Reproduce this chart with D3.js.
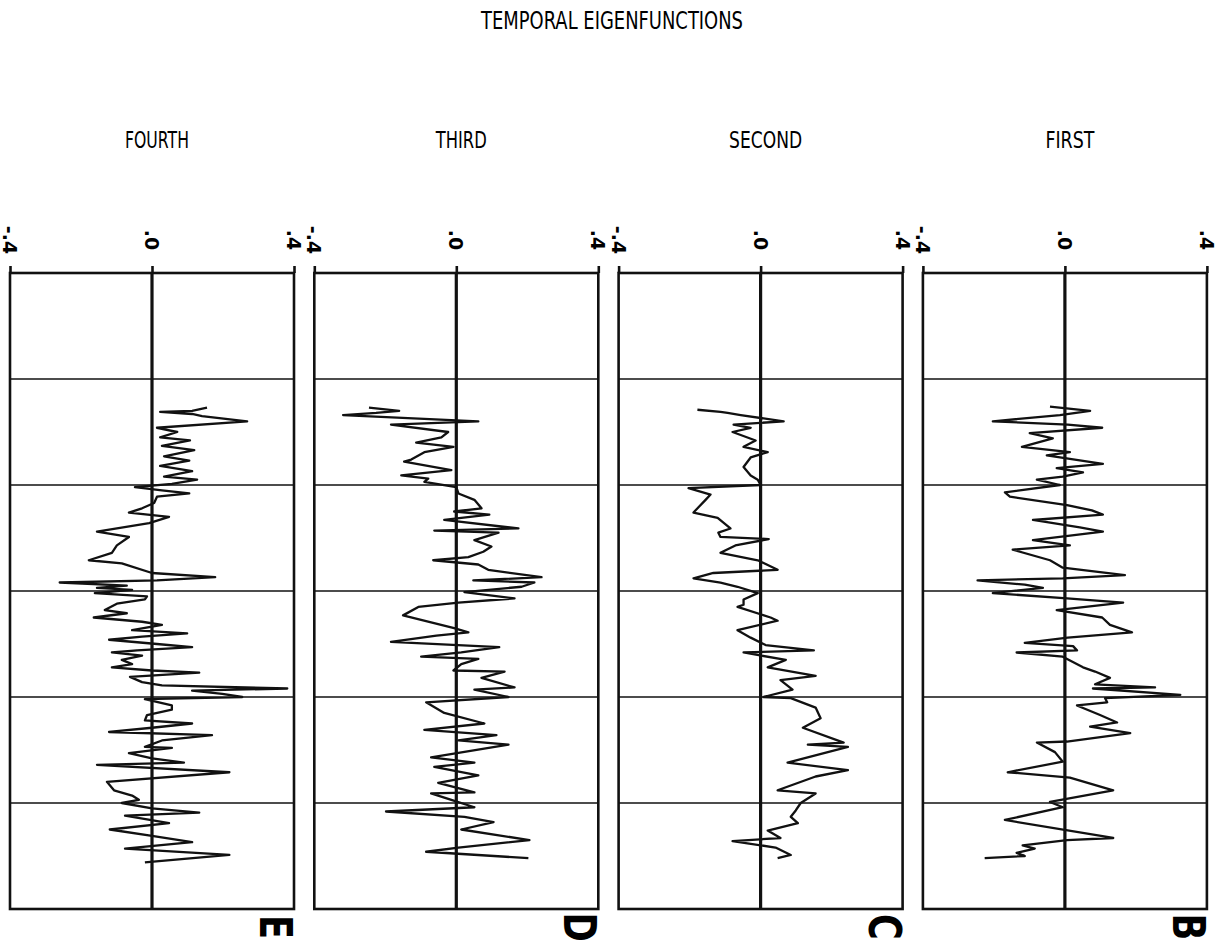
<!DOCTYPE html>
<html>
<head>
<meta charset="utf-8">
<script src="https://cdn.jsdelivr.net/npm/d3@7"></script>
<style>
body { margin: 0; background: #fff; }
</style>
</head>
<body>
<div id="chart"></div>
<script>
// panel order left to right, as in the figure
var panelNames = ["FOURTH", "THIRD", "SECOND", "FIRST"];
var panelLetters = ["E", "D", "C", "B"];
var valueTicks = [-0.4, 0, 0.4];
var tickLabels = ["-.4", ".0", ".4"];
var timeGrid = [10, 20, 30, 40, 50];

// [time, amplitude]
var fourth = [[12.7,.155],[13.0,.113],[13.1,.023],[13.3,.113],[13.5,.141],[14.0,.268],[14.6,.014],[15.0,.071],[15.5,.023],[15.8,.107],[16.3,.028],[16.7,.119],[17.3,.034],[17.7,.105],[18.2,.023],[18.7,.113],[19.2,.034],[19.5,.127],[19.9,.056],[20.2,-.048],[20.5,.028],[20.8,.105],[21.1,.014],[21.7,.006],[22.2,-.028],[22.6,-.065],[23.0,.048],[23.6,-.008],[24.4,-.155],[24.9,-.065],[25.7,-.099],[26.4,-.113],[27.1,-.178],[27.4,-.085],[28.3,0],[28.7,.178],[29.0,.014],[29.2,-.260],[29.5,-.071],[29.7,-.155],[29.9,-.056],[30.2,-.161],[30.5,-.014],[30.8,-.020],[31.2,-.099],[31.8,-.133],[32.1,-.071],[32.5,-.164],[32.9,-.028],[33.2,.028],[33.7,-.056],[34.0,.099],[34.3,-.028],[34.6,-.121],[35.0,.014],[35.3,.113],[35.6,-.042],[35.8,-.113],[36.1,-.028],[36.5,-.085],[36.9,-.056],[37.2,-.113],[37.5,0],[37.7,.133],[38.1,-.062],[38.6,-.028],[38.9,.028],[39.2,.381],[39.4,.113],[39.7,.198],[40.0,.254],[40.2,-.020],[40.8,.056],[41.2,.056],[41.7,-.014],[42.2,-.020],[42.5,.113],[42.9,0],[43.3,-.121],[43.6,.169],[44.1,.028],[44.7,-.020],[44.8,.056],[45.3,-.065],[45.8,0],[46.2,.090],[46.4,-.155],[47.1,.218],[48.0,-.127],[48.8,-.107],[49.3,-.056],[49.7,-.037],[50.0,-.085],[50.5,0],[50.9,.133],[51.2,-.076],[51.9,.048],[52.5,-.119],[53.1,0],[53.7,.113],[54.3,-.076],[54.9,.218],[55.6,-.020]];

var third = [[12.7,-.246],[13.0,-.161],[13.2,-.226],[13.4,-.319],[14.0,.062],[14.3,-.184],[15.0,-.023],[15.5,-.042],[16.0,-.113],[16.4,-.008],[16.9,-.090],[17.6,-.127],[17.8,-.147],[18.6,-.014],[19.1,-.155],[19.4,-.079],[19.7,-.090],[20.2,0],[20.8,.006],[21.4,.051],[22.2,.071],[22.5,-.006],[22.8,.093],[23.3,-.034],[24.1,.175],[24.3,-.062],[24.5,.119],[25.2,.051],[25.8,.099],[26.3,.076],[26.8,.034],[27.1,-.065],[27.5,.062],[28.0,.090],[28.7,.240],[29.0,.048],[29.2,.220],[29.6,.184],[30.1,.023],[30.7,.164],[31.1,.006],[31.5,-.107],[32.3,-.150],[33.5,-.006],[33.9,.034],[34.2,-.056],[34.8,-.184],[35.3,.121],[35.8,.014],[36.2,-.099],[36.4,.062],[36.9,.014],[37.5,-.008],[37.6,.136],[38.2,.071],[39.1,.164],[39.3,.051],[40.0,.147],[40.5,-.085],[41.5,-.034],[42.5,.079],[43.1,-.090],[43.6,.113],[44.1,.006],[44.5,.147],[45.7,-.071],[46.2,.051],[46.6,-.062],[47.4,.062],[48.1,-.051],[49.0,.051],[49.1,-.071],[49.7,-.014],[50.4,.051],[50.8,-.198],[51.3,.023],[51.8,.105],[52.5,.014],[53.5,.206],[54.2,.006],[54.6,-.085],[55.2,.203]];

var second = [[12.9,-.178],[13.1,-.113],[13.2,-.093],[13.4,-.056],[14.0,.065],[14.3,-.076],[14.6,-.028],[15.0,-.079],[15.8,-.014],[16.4,-.048],[16.9,.020],[17.4,-.028],[18.3,-.048],[19.1,-.028],[19.5,-.008],[20.0,0],[20.3,-.203],[20.9,-.141],[21.4,-.155],[22.1,-.175],[22.6,-.189],[23.1,-.121],[24.1,-.085],[24.5,-.119],[24.9,-.113],[25.1,.023],[25.7,-.071],[26.4,-.113],[27.1,-.008],[28.0,.048],[28.3,-.133],[28.8,-.189],[29.2,-.113],[29.6,-.065],[30.2,-.008],[30.8,-.048],[31.3,-.048],[31.5,-.065],[32.5,.028],[32.8,.048],[33.7,-.065],[34.4,-.028],[35.1,.014],[35.6,.150],[35.8,-.048],[36.5,.071],[37.2,.020],[38.0,.155],[38.4,.056],[39.3,.090],[40.0,.008],[40.1,.085],[41.0,.155],[42.0,.169],[42.9,.119],[44.3,.234],[44.5,.133],[44.7,.246],[46.2,.076],[46.9,.246],[47.5,.155],[48.8,.048],[49.1,.155],[50.0,.113],[50.7,.099],[51.3,.085],[51.9,.105],[52.6,.020],[53.3,.056],[53.6,-.079],[54.2,.042],[54.9,.085],[55.2,.048]];

var first = [[12.6,-.042],[13.0,.071],[13.4,-.014],[14.0,-.203],[14.3,.008],[14.6,.105],[15.1,-.099],[15.6,-.034],[16.4,-.121],[16.9,.014],[17.2,-.051],[18.0,.107],[18.4,-.023],[18.8,.051],[19.2,-.006],[19.5,-.079],[20.0,-.014],[20.7,-.169],[21.1,-.155],[21.9,.006],[22.4,.076],[22.8,.107],[23.3,-.090],[24.0,.042],[24.4,.107],[25.2,-.090],[25.7,.014],[26.1,-.147],[27.1,-.042],[27.8,-.006],[28.5,.169],[28.8,-.006],[29.0,-.246],[29.4,-.113],[29.7,-.062],[30.2,-.203],[30.7,.006],[31.1,.164],[31.8,-.023],[32.5,.105],[33.2,.127],[33.9,.189],[34.4,.008],[34.9,-.113],[35.2,.023],[35.6,.034],[35.8,-.136],[36.2,-.006],[37.2,.051],[37.6,.085],[38.2,.127],[38.8,.085],[39.1,.254],[39.2,.079],[39.8,.325],[40.1,.113],[40.5,.119],[40.8,.034],[41.7,.099],[42.4,.147],[42.8,.071],[43.4,.184],[44.2,.006],[44.3,-.079],[45.2,-.028],[46.1,-.006],[47.1,-.161],[47.6,.014],[48.8,.136],[49.9,-.042],[50.4,-.006],[51.6,-.169],[53.3,.136],[53.5,.006],[54.0,-.119],[54.3,-.085],[54.7,-.136],[55.0,-.113],[55.2,-.226]];

var series = [fourth, third, second, first];

var width = 1223, height = 947;
var panelLeft = 10, panelStep = 304.3, panelWidth = 284;
var plotTop = 273, plotBottom = 909;
var titleWidths = [64, 51, 73, 49];

var svg = d3.select("#chart").append("svg")
	.attr("width", width)
	.attr("height", height)
	.style("font-family", "'DejaVu Sans', sans-serif");

svg.append("text")
	.attr("x", 612)
	.attr("y", 29)
	.attr("text-anchor", "middle")
	.attr("font-size", 24)
	.attr("textLength", 262)
	.attr("lengthAdjust", "spacingAndGlyphs")
	.text("TEMPORAL EIGENFUNCTIONS");

var y = d3.scaleLinear().domain([0, 60]).range([plotTop, plotBottom]);

var line = d3.line()
	.x(function(d) { return d.px; })
	.y(function(d) { return y(d[0]); });

series.forEach(function(data, i) {
	var left = panelLeft + i * panelStep;
	var x = d3.scaleLinear().domain([-0.4, 0.4]).range([left, left + panelWidth]);
	var g = svg.append("g");

	g.append("text")
		.attr("x", x(0) + 5)
		.attr("y", 148)
		.attr("text-anchor", "middle")
		.attr("font-size", 23)
		.attr("textLength", titleWidths[i])
		.attr("lengthAdjust", "spacingAndGlyphs")
		.text(panelNames[i]);

	// horizontal time grid
	g.selectAll(".grid")
		.data(timeGrid)
		.enter().append("line")
		.attr("x1", x(-0.4)).attr("x2", x(0.4))
		.attr("y1", function(d) { return y(d); })
		.attr("y2", function(d) { return y(d); })
		.attr("stroke", "#111")
		.attr("stroke-width", 1.6);

	g.append("rect")
		.attr("x", x(-0.4)).attr("y", plotTop)
		.attr("width", x(0.4) - x(-0.4)).attr("height", plotBottom - plotTop)
		.attr("fill", "none")
		.attr("stroke", "#111")
		.attr("stroke-width", 2.6);

	g.append("line")
		.attr("x1", x(0)).attr("x2", x(0))
		.attr("y1", plotTop).attr("y2", plotBottom)
		.attr("stroke", "#111")
		.attr("stroke-width", 3.2);

	var axis = g.append("g")
		.attr("transform", "translate(0," + plotTop + ")")
		.call(d3.axisTop(x).tickValues(valueTicks).tickSize(7).tickFormat(""));
	axis.select(".domain").remove();
	axis.selectAll(".tick line").attr("stroke", "#111").attr("stroke-width", 2.6);

	g.selectAll(".lab")
		.data(valueTicks)
		.enter().append("text")
		.attr("transform", function(d) { return "translate(" + x(d) + ",240) rotate(90)"; })
		.attr("text-anchor", "middle")
		.attr("dy", "0.36em")
		.attr("font-size", 19)
		.attr("font-weight", "bold")
		.text(function(d, k) { return tickLabels[k]; });

	g.append("text")
		.attr("transform", "translate(" + (x(0.4) - 34) + ",927) rotate(90) scale(0.8,1)")
		.attr("text-anchor", "middle")
		.attr("font-size", 44)
		.attr("font-weight", "bold")
		.text(panelLetters[i]);

	var pts = data.map(function(d) { var p = [d[0], d[1]]; p.px = x(d[1]); return p; });
	g.append("path")
		.attr("d", line(pts))
		.attr("fill", "none")
		.attr("stroke", "#111")
		.attr("stroke-width", 2.3)
		.attr("stroke-linejoin", "round");
});
</script>
</body>
</html>
